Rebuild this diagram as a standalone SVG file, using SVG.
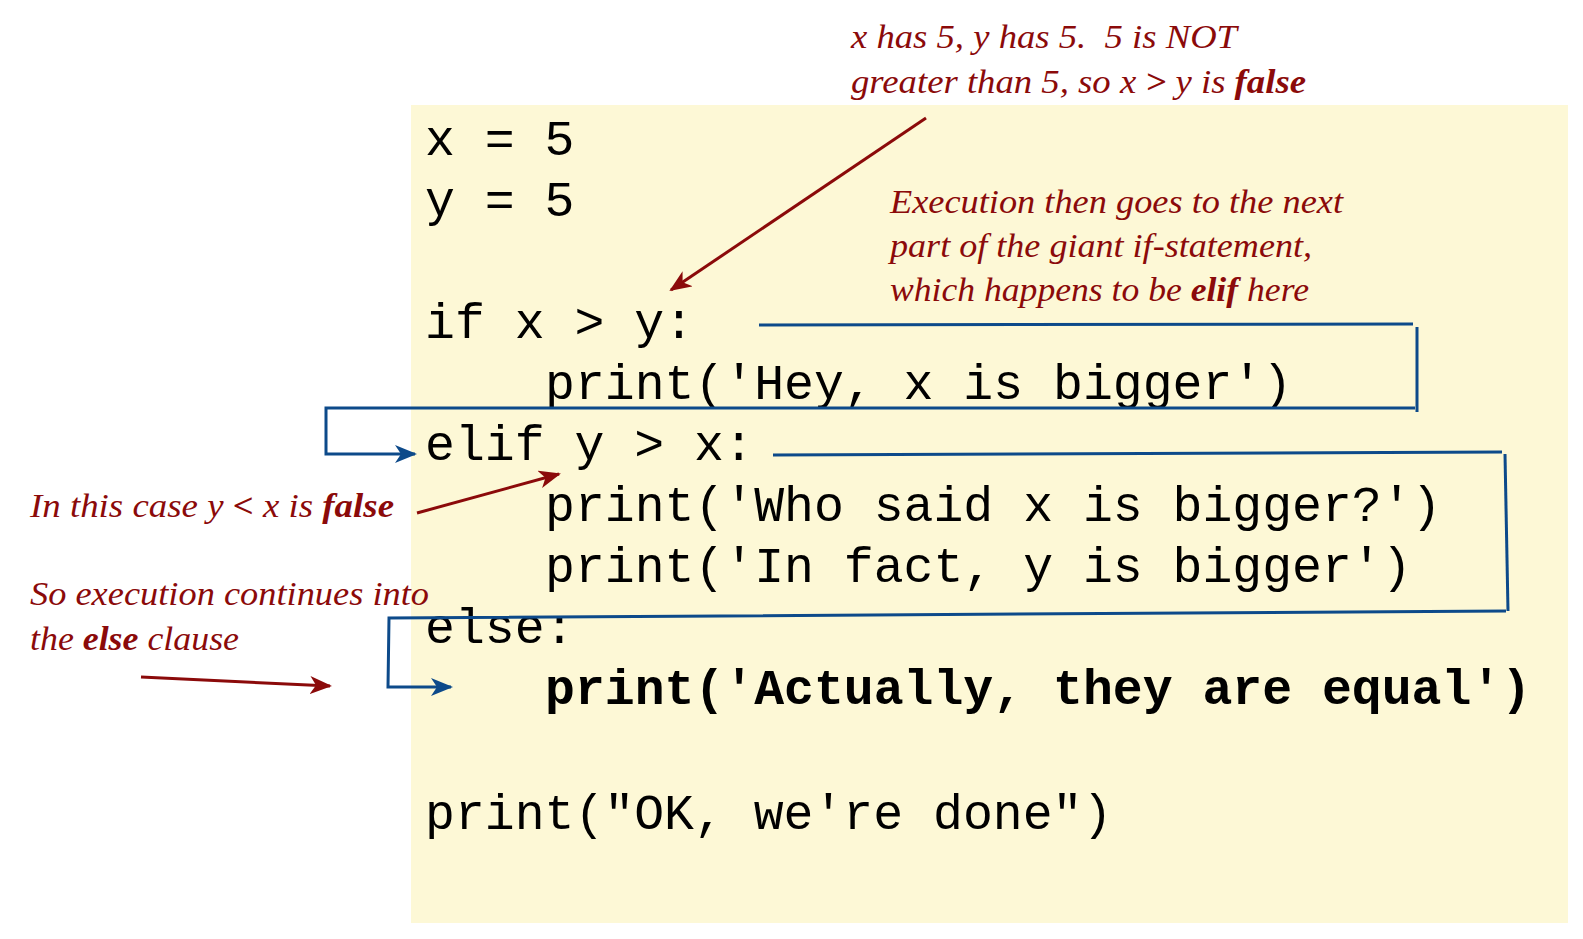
<svg xmlns="http://www.w3.org/2000/svg" width="1583" height="939" viewBox="0 0 1583 939">
  <style>
    .code { font-family: "Liberation Mono", "Courier New", monospace; font-size: 49.8px; fill: #000; }
    .note { font-family: "Liberation Serif", "Times New Roman", serif; font-style: italic; font-size: 34px; fill: #8b0a0a; white-space: pre; }
    .b { font-weight: bold; }
    .red { stroke: #8b0a0a; stroke-width: 3; fill: none; }
    .blue { stroke: #0d4a8a; stroke-width: 3; fill: none; }
  </style>
  <defs>
    <marker id="arrRed" viewBox="0 0 22 18" refX="20" refY="9" markerWidth="22" markerHeight="18" markerUnits="userSpaceOnUse" orient="auto">
      <path d="M0,0 L22,9 L0,18 L6,9 Z" fill="#8b0a0a"/>
    </marker>
    <marker id="arrBlue" viewBox="0 0 22 18" refX="20" refY="9" markerWidth="22" markerHeight="18" markerUnits="userSpaceOnUse" orient="auto">
      <path d="M0,0 L22,9 L0,18 L6,9 Z" fill="#0d4a8a"/>
    </marker>
  </defs>

  <rect id="code-bg" x="411" y="105" width="1157" height="818" fill="#fdf8d6"/>

  <g id="code">
    <text class="code" x="425" y="155">x = 5</text>
    <text class="code" x="425" y="216">y = 5</text>
    <text class="code" x="425" y="338">if x &gt; y:</text>
    <text class="code" x="545" y="399">print('Hey, x is bigger')</text>
    <text class="code" x="425" y="460">elif y &gt; x:</text>
    <text class="code" x="545" y="521">print('Who said x is bigger?')</text>
    <text class="code" x="545" y="582">print('In fact, y is bigger')</text>
    <text class="code" x="425" y="643">else:</text>
    <text class="code b" x="545" y="704">print('Actually, they are equal')</text>
    <text class="code" x="425" y="829">print("OK, we're done")</text>
  </g>

  <g id="note-false-x-gt-y">
    <text class="note" x="851" y="48" textLength="386" lengthAdjust="spacingAndGlyphs" xml:space="preserve">x has 5, y has 5.  5 is NOT</text>
    <text class="note" x="851" y="93" textLength="455" lengthAdjust="spacingAndGlyphs">greater than 5, so x <tspan class="b">&gt;</tspan> y is <tspan class="b">false</tspan></text>
  </g>

  <g id="note-next-part">
    <text class="note" x="890" y="213" textLength="453" lengthAdjust="spacingAndGlyphs">Execution then goes to the next</text>
    <text class="note" x="890" y="257" textLength="422" lengthAdjust="spacingAndGlyphs">part of the giant if-statement,</text>
    <text class="note" x="890" y="301" textLength="419" lengthAdjust="spacingAndGlyphs">which happens to be <tspan class="b">elif</tspan> here</text>
  </g>

  <g id="note-elif-false">
    <text class="note" x="30" y="517" textLength="364" lengthAdjust="spacingAndGlyphs">In this case y <tspan class="b">&lt;</tspan> x is <tspan class="b">false</tspan></text>
  </g>

  <g id="note-else">
    <text class="note" x="30" y="605" textLength="399" lengthAdjust="spacingAndGlyphs">So execution continues into</text>
    <text class="note" x="30" y="650" textLength="209" lengthAdjust="spacingAndGlyphs">the <tspan class="b">else</tspan> clause</text>
  </g>

  <g id="connectors">
    <path class="red" d="M926,118 L671,290" marker-end="url(#arrRed)"/>
    <path class="red" d="M417,513 L559,474" marker-end="url(#arrRed)"/>
    <path class="red" d="M141,677 L330,686" marker-end="url(#arrRed)"/>

    <path class="blue" d="M759,325 L1413,324"/>
    <path class="blue" d="M1417,327 L1417,412"/>
    <path class="blue" d="M1415,408 L326,408 L326,454 L415,454" marker-end="url(#arrBlue)"/>

    <path class="blue" d="M773,455 L1502,452"/>
    <path class="blue" d="M1505,454 L1508,611"/>
    <path class="blue" d="M1506,611 L389,618 L388,687 L451,687" marker-end="url(#arrBlue)"/>
  </g>
</svg>
